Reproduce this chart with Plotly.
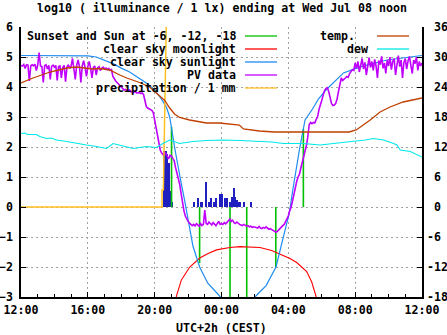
from datetime import datetime, timedelta
import plotly.graph_objects as go

# ---------------------------------------------------------------------------
# Time base: hours after Tue 2020-07-07 12:00 (CEST); 24 h = Wed 12:00
# ---------------------------------------------------------------------------
BASE = datetime(2020, 7, 7, 12, 0)

# PV sensor, log10(lx), one value every 5 minutes (one row per hour)
pv_rows = [
    [4.72, 4.70, 4.75, 4.62, 4.74, 4.73, 4.20, 4.70, 4.74, 4.71, 4.76, 4.55],
    [4.73, 5.15, 4.70, 4.68, 4.15, 4.71, 4.74, 4.60, 4.72, 4.25, 4.69, 4.73],
    [4.66, 4.72, 4.22, 4.68, 4.70, 4.30, 4.65, 4.72, 4.18, 4.67, 4.74, 4.62],
    [4.70, 4.95, 4.60, 4.25, 4.72, 4.90, 4.68, 4.15, 4.70, 4.88, 4.66, 4.35],
    [4.68, 4.85, 4.62, 4.30, 4.66, 4.70, 4.40, 4.64, 4.68, 4.55, 4.62, 4.66],
    [4.60, 4.63, 4.58, 4.62, 4.55, 4.58, 4.35, 4.25, 4.20, 4.15, 4.10, 4.05],
    [4.00, 3.95, 3.90, 3.92, 3.88, 3.86, 3.90, 3.84, 3.85, 3.82, 3.86, 3.80],
    [3.80, 3.82, 3.78, 3.80, 3.75, 3.50, 3.35, 3.30, 3.28, 3.25, 3.22, 3.15],
    [2.90, 2.70, 2.45, 2.20, 1.90, 1.80, 1.75, 1.82, 1.78, 1.70, 1.60, 1.72],
    [1.70, 1.62, 1.55, 1.32, 1.15, 0.95, 0.75, 0.45, 0.13, -0.12, -0.30, -0.40],
    [-0.48, -0.54, -0.60, -0.62, -0.58, -0.63, -0.56, -0.60, -0.64, -0.55, -0.62, -0.58],
    [-0.10, -0.55, -0.58, -0.50, -0.56, -0.60, -0.52, -0.57, -0.62, -0.55, -0.48, -0.58],
    [-0.55, -0.58, -0.52, -0.56, -0.50, -0.45, -0.40, -0.48, -0.44, -0.52, -0.55, -0.50],
    [-0.55, -0.58, -0.60, -0.62, -0.58, -0.60, -0.64, -0.62, -0.66, -0.64, -0.68, -0.66],
    [-0.66, -0.68, -0.70, -0.65, -0.70, -0.72, -0.68, -0.71, -0.66, -0.70, -0.74, -0.72],
    [-0.75, -0.78, -0.82, -0.84, -0.82, -0.76, -0.70, -0.67, -0.62, -0.58, -0.50, -0.42],
    [-0.30, -0.12, 0.00, 0.20, 0.45, 0.65, 0.85, 1.00, 1.10, 1.30, 1.50, 1.62],
    [1.80, 2.05, 2.35, 2.75, 2.82, 2.78, 2.82, 2.80, 2.92, 3.00, 3.25, 3.45],
    [3.55, 3.72, 3.88, 3.95, 3.98, 3.85, 3.65, 3.45, 3.38, 3.40, 3.45, 3.60],
    [3.85, 4.15, 4.30, 4.22, 4.25, 4.30, 4.35, 4.32, 4.45, 4.52, 4.58, 4.55],
    [4.80, 4.62, 4.85, 4.50, 4.78, 4.95, 4.60, 4.82, 4.40, 4.75, 4.98, 4.65],
    [4.85, 4.55, 4.92, 4.70, 4.30, 4.88, 4.75, 5.02, 4.62, 4.80, 4.45, 4.90],
    [4.70, 5.00, 4.58, 4.85, 4.95, 4.40, 4.80, 5.05, 4.68, 4.90, 4.30, 4.82],
    [4.95, 4.60, 4.88, 5.02, 4.72, 4.45, 4.90, 4.78, 5.00, 4.55, 4.85, 4.70],
    [4.80],
]
pv_log = [v for row in pv_rows for v in row]
pv_h = [i / 12 for i in range(len(pv_log))]

# clear sky sunlight model, log10(lx)
sky_h = [0, 1, 2, 3, 4, 4.5, 5, 5.5, 6, 6.5, 7, 7.5, 8, 8.4, 8.7, 8.9,
         9.22, 9.39, 9.59, 9.79, 9.99, 10.29, 10.69, 11.18, 11.78, 12.3,
         13.0, 13.6, 14.17, 14.67, 15.26, 15.66, 15.86, 16.06, 16.24, 16.46,
         16.66, 17.0, 17.43, 17.8, 18.25, 19.3, 20.3, 21.9, 23.2, 24]
sky_log = [5.05, 5.05, 5.05, 5.05, 5.04, 5.00, 4.90, 4.78, 4.63, 4.50, 4.32,
           4.13, 3.90, 3.60, 3.33, 3.00, 1.90, 1.34, 0.79, 0.23, -0.35, -1.30,
           -2.00, -2.54, -2.90, -3.25, -3.45, -3.25, -2.90, -2.62, -2.00,
           -1.10, -0.60, -0.20, 0.47, 1.23, 1.90, 2.90, 3.25, 3.60, 3.90,
           4.47, 4.67, 4.90, 5.00, 5.05]

# clear sky moonlight model, log10(lx)
moon_h = [9.2, 9.31, 9.6, 10.1, 10.7, 11.2, 11.7, 12.1, 12.5, 13.1, 13.7,
          14.3, 15.0, 15.6, 16.1, 16.5, 16.9, 17.1, 17.4, 17.67, 17.9]
moon_log = [-3.4, -2.95, -2.43, -2.00, -1.70, -1.55, -1.43, -1.38, -1.35,
            -1.32, -1.33, -1.35, -1.45, -1.60, -1.72, -1.85, -2.05, -2.15,
            -2.50, -3.00, -3.60]

# sunset, sun at -6 / -12 deg (evening, morning), sunrise: model level at that time
sun_event_h = [9.01, 10.69, 12.51, 13.51, 15.25, 16.90]
sun_event_log = [2.67, -1.87, -3.60, -3.60, -2.00, 2.60]

# precipitation total / 1 mm
precip_h = [0, 8.44, 8.44, 8.52, 8.73, 9.2, 10.5, 13.8, 24]
precip_mm = [0, 0, 0.57, 0.57, 7.2, 9.6, 11.5, 12.4, 12.4]

# rain intensity
rain_h = [8.56, 8.66, 8.76, 8.85, 8.96, 9.06,
          10.37, 10.57, 10.76, 10.85, 11.06, 11.24, 11.36, 11.56, 11.68,
          11.92, 12.06, 12.24, 12.36, 12.53, 12.63, 12.73, 12.82, 12.92,
          13.03, 13.13, 13.36, 13.75]
rain_val = [1.87, 1.87, 1.78, 1.46, 0.52, 0.16,
            0.16, 0.31, 0.16, 0.16, 0.85, 0.16, 0.31, 0.16, 0.31,
            0.45, 0.45, 0.31, 0.31, 0.16, 0.34, 0.62, 0.34, 0.25,
            0.16, 0.17, 0.17, 0.17]

# air temperature, deg C
temp_h = [0, 0.72, 1.73, 2.75, 3.34, 4.30, 4.72, 5.31, 5.91, 6.33, 7.10,
          7.70, 8.0, 8.30, 8.60, 8.90, 9.19, 9.49, 10.09, 11.10, 11.88,
          13.07, 13.31, 14.27, 15.16, 19.64, 20.06, 20.48, 20.90, 21.49,
          22.09, 22.87, 23.64, 24.0]
temp_c = [24.8, 25.8, 27.0, 27.8, 28.0, 27.6, 27.7, 27.4, 26.4, 25.8, 24.9,
          24.0, 23.1, 22.2, 21.3, 19.8, 18.6, 17.9, 17.4, 16.8, 16.8, 16.4,
          15.6, 15.2, 15.0, 15.0, 15.4, 16.4, 17.4, 19.0, 20.0, 21.0, 21.6,
          21.8]

# dew point, deg C
dew_h = [0, 0.2, 0.4, 0.74, 0.9, 1.13, 1.53, 1.8, 2.13, 2.73, 3.32, 3.92,
         4.52, 5.12, 5.51, 5.91, 6.71, 7.5, 8.1, 8.5, 8.9, 9.49, 10.29,
         11.09, 12.1, 13.1, 14.1, 15.0, 15.7, 16.9, 17.9, 18.7, 19.4, 20.1,
         20.6, 21.1, 21.7, 22.3, 22.5, 22.7, 23.3, 24.0]
dew_c = [14.7, 14.8, 14.5, 14.4, 14.5, 14.1, 13.7, 13.8, 13.4, 13.1, 12.7,
         12.4, 12.1, 11.7, 12.7, 12.4, 11.7, 12.1, 11.9, 12.7, 13.4, 12.7,
         13.1, 13.3, 13.4, 13.3, 13.1, 13.0, 12.7, 12.7, 12.4, 12.7, 12.9,
         13.1, 13.4, 13.7, 13.4, 12.7, 12.4, 11.4, 11.1, 10.0]

# axis ticks
y_ticks = list(range(-3, 7))
y2_ticks = list(range(-18, 37, 6))
y2_tick_text = [("\u00a0" + str(v)) if v >= 0 else str(v) for v in y2_ticks]

TITLE = "log10 ( illuminance / 1 lx) ending at Wed Jul 08 noon"
X_TITLE = "UTC+2h (CEST)"

# colours
C_SUN = "#00c000"
C_MOON = "#ff0000"
C_SKY = "#1e8cf0"
C_PV = "#c000ff"
C_PRECIP = "#ffc020"
C_RAIN = "#2020c0"
C_TEMP = "#c04000"
C_DEW = "#00e8e8"


def to_time(hours):
    return [BASE + timedelta(hours=h) for h in hours]


# plot geometry (pixels)
W, H = 447, 335
L, R, T, B = 21, 25, 27, 38
PW, PH = W - L - R, H - T - B


def px(xp):
    return (xp - L) / PW


def py(yp):
    return 1 - (yp - T) / PH


FONT = dict(family="DejaVu Sans Mono", size=11.6, color="black", weight="bold")

fig = go.Figure()

# rain bars
fig.add_trace(go.Bar(x=to_time(rain_h), y=rain_val, width=0.07 * 3600 * 1000,
                     marker=dict(color=C_RAIN, line=dict(width=0)),
                     showlegend=False))

# sun events as impulses from 0
ev_x, ev_y = [], []
for h, v in zip(sun_event_h, sun_event_log):
    t = BASE + timedelta(hours=h)
    ev_x += [t, t, None]
    ev_y += [0, v, None]
fig.add_trace(go.Scatter(x=ev_x, y=ev_y, mode="lines",
                         line=dict(color=C_SUN, width=1.6), showlegend=False))

fig.add_trace(go.Scatter(x=to_time(moon_h), y=moon_log, mode="lines",
                         line=dict(color=C_MOON, width=1.1), showlegend=False))
fig.add_trace(go.Scatter(x=to_time(sky_h), y=sky_log, mode="lines",
                         line=dict(color=C_SKY, width=1.2), showlegend=False))
fig.add_trace(go.Scatter(x=to_time(pv_h), y=pv_log, mode="lines",
                         line=dict(color=C_PV, width=1.6), showlegend=False))
fig.add_trace(go.Scatter(x=to_time(precip_h), y=precip_mm, mode="lines",
                         line=dict(color=C_PRECIP, width=1.5), showlegend=False))
fig.add_trace(go.Scatter(x=to_time(temp_h), y=temp_c, mode="lines", yaxis="y2",
                         line=dict(color=C_TEMP, width=1.3), showlegend=False))
fig.add_trace(go.Scatter(x=to_time(dew_h), y=dew_c, mode="lines", yaxis="y2",
                         line=dict(color=C_DEW, width=1.1), showlegend=False))

# key: text right-aligned, sample line to its right
key_left = [("Sunset and Sun at -6, -12, -18", C_SUN),
            ("clear sky moonlight", C_MOON),
            ("clear sky sunlight", C_SKY),
            ("PV data", C_PV),
            ("precipitation / 1 mm", C_PRECIP)]
key_right = [("temp.", C_TEMP, 357), ("dew", C_DEW, 370)]
rows = [36, 49, 62, 75, 88]

shapes = [
    # opaque key backgrounds (hide grid, keep data)
    dict(type="rect", xref="paper", yref="paper", layer="between",
         x0=px(21.5), x1=px(281), y0=py(95), y1=py(27),
         fillcolor="white", line=dict(width=0)),
    dict(type="rect", xref="paper", yref="paper", layer="between",
         x0=px(330), x1=px(413), y0=py(55), y1=py(27),
         fillcolor="white", line=dict(width=0)),
]
annotations = []
for (label, col), r in zip(key_left, rows):
    annotations.append(dict(text=label, xref="paper", yref="paper",
                            x=px(238), y=py(r), xanchor="right",
                            yanchor="middle", showarrow=False, font=FONT))
    shapes.append(dict(type="line", xref="paper", yref="paper", layer="above",
                       x0=px(245), x1=px(277), y0=py(r), y1=py(r),
                       line=dict(color=col, width=1.3)))
for (label, col, xr), r in zip(key_right, rows):
    annotations.append(dict(text=label, xref="paper", yref="paper",
                            x=px(xr), y=py(r), xanchor="right",
                            yanchor="middle", showarrow=False, font=FONT))
    shapes.append(dict(type="line", xref="paper", yref="paper", layer="above",
                       x0=px(377), x1=px(409), y0=py(r), y1=py(r),
                       line=dict(color=col, width=1.3)))

annotations.append(dict(text=TITLE, xref="paper", yref="paper", x=0.5,
                        y=py(8), xanchor="center", yanchor="middle",
                        showarrow=False, font=FONT))
annotations.append(dict(text=X_TITLE, xref="paper", yref="paper", x=0.5,
                        y=py(328), xanchor="center", yanchor="middle",
                        showarrow=False, font=FONT))

GRID = dict(gridcolor="#a0a0a0", gridwidth=1, griddash="2px,3px")

fig.update_layout(
    width=W, height=H,
    margin=dict(l=L, r=R, t=T, b=B, pad=0, autoexpand=False),
    paper_bgcolor="white", plot_bgcolor="white",
    font=FONT,
    showlegend=False,
    bargap=0,
    shapes=shapes,
    annotations=annotations,
    xaxis=dict(
        type="date", automargin=False,
        range=[BASE, BASE + timedelta(hours=24)],
        tick0=BASE, dtick=4 * 3600 * 1000, tickformat="%H:%M",
        ticks="inside", ticklen=5, tickwidth=1, tickcolor="black",
        minor=dict(dtick=3600 * 1000, tick0=BASE, ticks="inside",
                   ticklen=3, tickcolor="black", showgrid=False),
        showline=True, linecolor="black", linewidth=1.5,
        showgrid=True, **GRID, zeroline=False,
        tickfont=FONT, ticklabelstandoff=1,
    ),
    yaxis=dict(
        range=[-3, 6], tickvals=y_ticks, automargin=False,
        ticks="inside", ticklen=5, tickwidth=1, tickcolor="black",
        showline=True, linecolor="black", linewidth=1.5,
        showgrid=True, **GRID, zeroline=False,
        tickfont=FONT, ticklabelstandoff=4,
    ),
    yaxis2=dict(
        overlaying="y", side="right", automargin=False,
        range=[-18, 36], tickvals=y2_ticks, ticktext=y2_tick_text,
        ticks="inside", ticklen=5, tickwidth=1, tickcolor="black",
        showline=True, linecolor="black", linewidth=1.5,
        showgrid=False, zeroline=False,
        tickfont=FONT, ticklabelstandoff=1,
    ),
)

fig.write_html("out.html")
